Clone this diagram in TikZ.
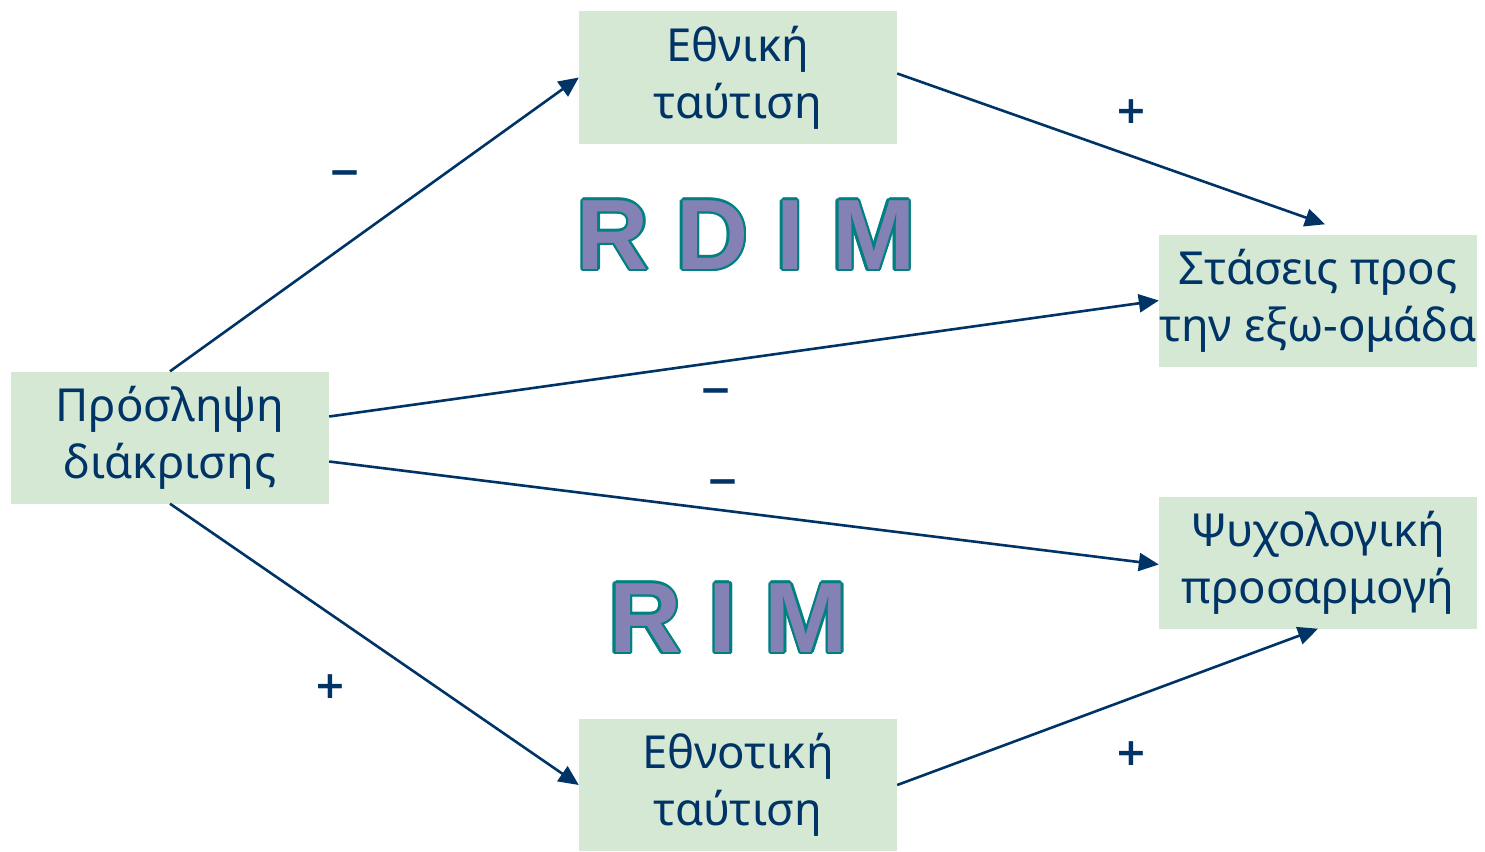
\documentclass[tikz,border=0pt]{standalone}
\usepackage{fontspec}
\setmainfont{Noto Sans}
\newfontfamily\rdimfont{Liberation Sans Bold}
\newfontfamily\signfont{DejaVu Sans Bold}
\usetikzlibrary{arrows.meta,calc}
\definecolor{navy}{RGB}{0,51,102}
\definecolor{boxgreen}{RGB}{213,232,212}
\definecolor{rdimfill}{RGB}{132,129,180}
\definecolor{rdimline}{RGB}{0,128,128}
\begin{document}
\begin{tikzpicture}[x=1pt,y=-1pt,
  box/.style={fill=boxgreen,text=navy,minimum width=318pt,minimum height=132pt,inner sep=0pt,align=center,font=\fontsize{45.5}{57}\selectfont},
  conn/.style={draw=navy,line width=2.6pt,-{Triangle[length=20pt,width=18pt]}},
  plussign/.style={text=navy,font=\signfont\fontsize{38}{38}\selectfont,inner sep=0pt},
  minussign/.style={text=navy,font=\fontsize{58}{58}\selectfont,inner sep=0pt},
  bigl/.style={font=\rdimfont\fontsize{100}{100}\selectfont,inner sep=0pt}]
\useasboundingbox (0,0) rectangle (1485,851);
\node[box] (a) at (170,437.5) {Πρόσληψη\\διάκρισης};
\node[box] (e) at (738,77.5) {Εθνική\\ταύτιση};
\node[box] (s) at (1318,300.5) {Στάσεις προς\\την εξω-ομάδα};
\node[box] (p) at (1318,562.5) {Ψυχολογική\\προσαρμογή};
\node[box] (n) at (738,785) {Εθνοτική\\ταύτιση};
\coordinate (a1) at ($(a.east)+(0,-21)$);
\coordinate (a2) at ($(a.east)+(0,24)$);
\coordinate (eo) at ($(e.east)+(0,-4)$);
\coordinate (st) at ($(s.north)+(7,-10)$);
\coordinate (pw) at ($(p.west)+(0,2)$);
\draw[conn] (a.north) -- (e.west);
\draw[conn] (eo) -- (st);
\draw[conn] (a1) -- (s.west);
\draw[conn] (a2) -- (pw);
\draw[conn] (a.south) -- (n.west);
\draw[conn] (n.east) -- (p.south);
\node[minussign] (m1) at (345,180) {–};
\node[plussign] (p1) at (1131,112) {+};
\node[minussign] (m2) at (716,397.5) {–};
\node[minussign] (m3) at (723,488.5) {–};
\node[plussign] (p2) at (330,687) {+};
\node[plussign] (p3) at (1131,754) {+};
\foreach \ang in {0,30,...,330} {
  \node[bigl,text=rdimline] (rdimo\ang) at ($(746,235)+(\ang:2.5pt)$) {R D I M};
  \node[bigl,text=rdimline] (rimo\ang) at ($(728.5,618)+(\ang:2.5pt)$) {R I M};
}
\node[bigl,text=rdimfill] (rdim) at (746,235) {R D I M};
\node[bigl,text=rdimfill] (rim) at (728.5,618) {R I M};
\end{tikzpicture}
\end{document}
